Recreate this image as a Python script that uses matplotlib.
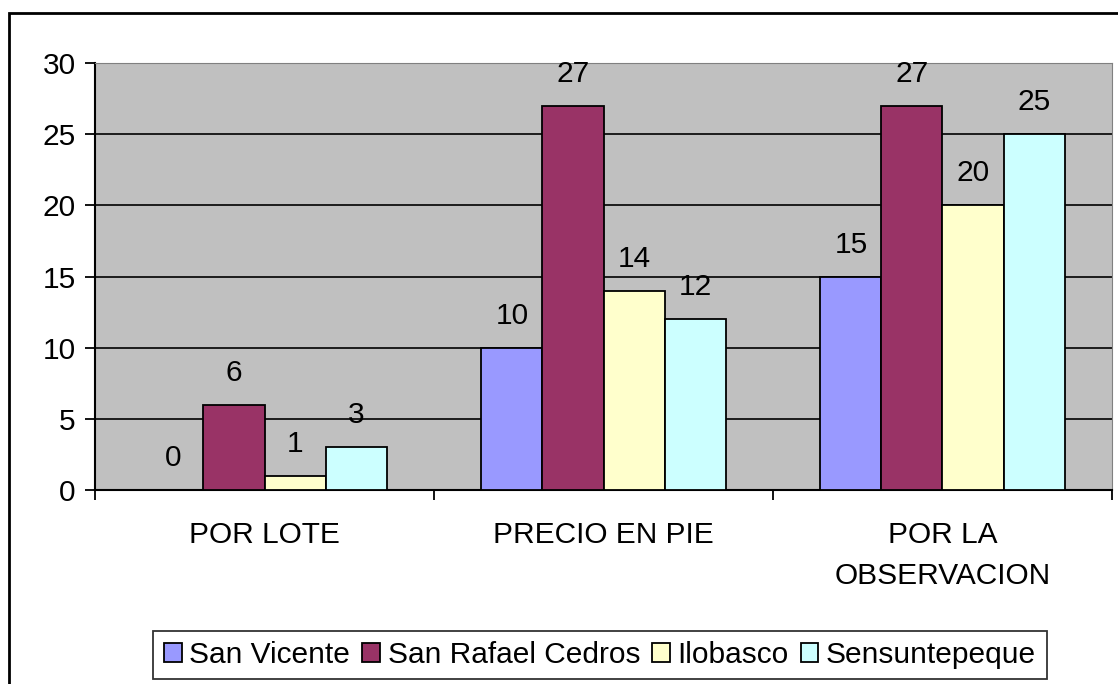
import matplotlib.pyplot as plt
import matplotlib.patches as mpatches
import numpy as np

plt.rcParams['font.family'] = ['Liberation Sans', 'DejaVu Sans']

categorias = ["POR LOTE", "PRECIO EN PIE", "POR LA\nOBSERVACION"]
series = ["San Vicente", "San Rafael Cedros", "Ilobasco", "Sensuntepeque"]
san_vicente = [0, 10, 15]
san_rafael = [6, 27, 27]
ilobasco = [1, 14, 20]
sensuntepeque = [3, 12, 25]
valores = [san_vicente, san_rafael, ilobasco, sensuntepeque]
colores = ["#9999FF", "#993366", "#FFFFCC", "#CCFFFF"]

fs = 21.5

fig = plt.figure(figsize=(11.18, 6.84), dpi=100)
ax = fig.add_axes([95 / 1118, 1 - 490 / 684, 1017 / 1118, 427 / 684])
ax.set_facecolor("#C0C0C0")

x = np.arange(len(categorias))
w = 0.18
for i, (nombre, vals, col) in enumerate(zip(series, valores, colores)):
    pos = x + (i - 1.5) * w
    ax.bar(pos, vals, w, color=col, edgecolor="black", linewidth=1.3,
           label=nombre, zorder=3)
    for p, v in zip(pos, vals):
        ax.annotate(str(v), (p, v), xytext=(0, 23), textcoords="offset points",
                    ha="center", va="center", fontsize=fs, zorder=4)

ax.set_xlim(-0.5, 2.5)
ax.set_ylim(0, 30)
ax.set_yticks(range(0, 31, 5))
ax.yaxis.grid(True, color="black", linewidth=1.2, zorder=1)
ax.set_axisbelow(True)
ax.tick_params(axis="y", labelsize=fs, length=7, width=1.3, pad=7)

ax.set_xticks([-0.5, 0.5, 1.5, 2.5])
ax.set_xticklabels([])
ax.set_xticks(x, minor=True)
ax.set_xticklabels(categorias, minor=True, fontsize=fs, linespacing=1.6)
ax.tick_params(axis="x", which="major", length=7, width=1.3, direction="out")
ax.tick_params(axis="x", which="minor", length=0, pad=22)

ax.spines["left"].set_linewidth(1.5)
ax.spines["bottom"].set_linewidth(1.5)
ax.spines["top"].set_color("#808080")
ax.spines["right"].set_color("#808080")

leg = ax.legend(loc="center", bbox_to_anchor=(600 / 1118, 1 - 655 / 684),
                bbox_transform=fig.transFigure, ncol=4, fontsize=fs,
                frameon=True, fancybox=False, edgecolor="black",
                handlelength=0.6, handleheight=0.6, handletextpad=0.25,
                columnspacing=0.4, borderpad=0.35, borderaxespad=0)
leg.get_frame().set_linewidth(1.3)

borde = mpatches.Rectangle((9 / 1118, -0.05), 1.1, 1 - 13 / 684 + 0.05,
                           transform=fig.transFigure, fill=False,
                           edgecolor="black", linewidth=2, clip_on=False)
fig.patches.append(borde)

fig.savefig("out.png", dpi=100)
